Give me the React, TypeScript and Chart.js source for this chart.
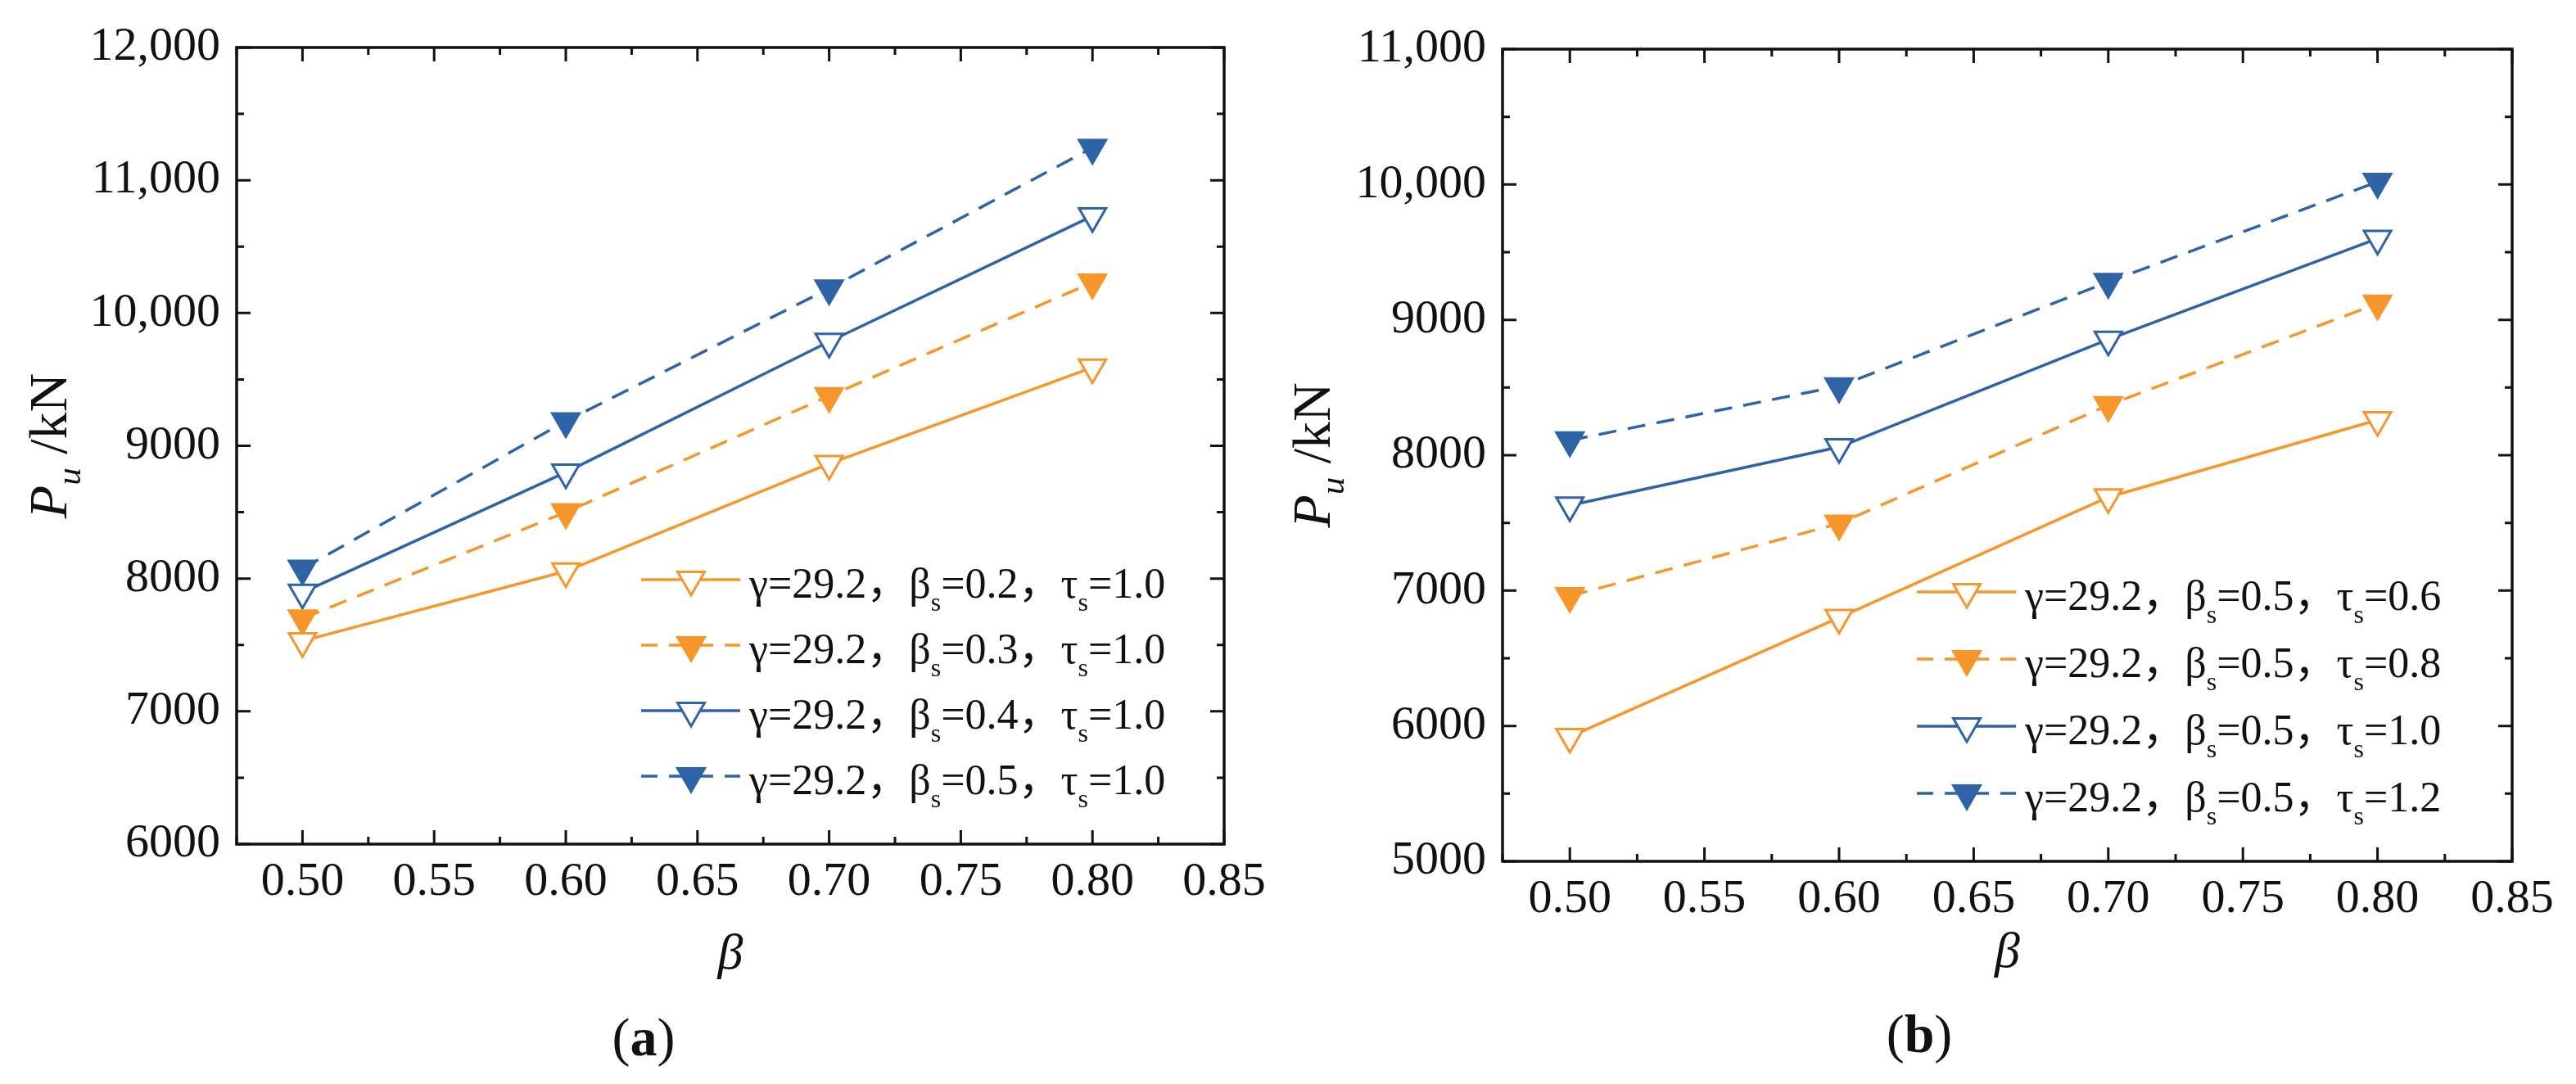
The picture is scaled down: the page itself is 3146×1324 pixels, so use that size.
import React, { useEffect, useRef } from 'react';
import { Chart, registerables } from 'chart.js';

Chart.register(...registerables);

const ORANGE = '#F7962B';
const BLUE = '#2F63A8';
const INK = '#111111';
const SERIF = '"Liberation Serif", "Times New Roman", "Noto Sans CJK SC", serif';

// shared x values (beta)
const betaValues = [0.5, 0.6, 0.7, 0.8];
const xTickValues = [0.5, 0.55, 0.6, 0.65, 0.7, 0.75, 0.8, 0.85];
const xTickLabels = ['0.50', '0.55', '0.60', '0.65', '0.70', '0.75', '0.80', '0.85'];

// panel (a): beta_s varies
const seriesA1 = [7530, 8055, 8865, 9590];
const seriesA2 = [7700, 8500, 9375, 10230];
const seriesA3 = [7895, 8800, 9785, 10730];
const seriesA4 = [8075, 9185, 10185, 11245];
const legendA = [
  'γ=29.2，β_s=0.2，τ_s=1.0',
  'γ=29.2，β_s=0.3，τ_s=1.0',
  'γ=29.2，β_s=0.4，τ_s=1.0',
  'γ=29.2，β_s=0.5，τ_s=1.0',
];
const yTicksA = [6000, 7000, 8000, 9000, 10000, 11000, 12000];
const yLabelsA = ['6000', '7000', '8000', '9000', '10,000', '11,000', '12,000'];

// panel (b): tau_s varies
const seriesB1 = [5920, 6800, 7690, 8260];
const seriesB2 = [6960, 7495, 8370, 9120];
const seriesB3 = [7630, 8060, 8855, 9600];
const seriesB4 = [8110, 8510, 9280, 10020];
const legendB = [
  'γ=29.2，β_s=0.5，τ_s=0.6',
  'γ=29.2，β_s=0.5，τ_s=0.8',
  'γ=29.2，β_s=0.5，τ_s=1.0',
  'γ=29.2，β_s=0.5，τ_s=1.2',
];
const yTicksB = [5000, 6000, 7000, 8000, 9000, 10000, 11000];
const yLabelsB = ['5000', '6000', '7000', '8000', '9000', '10,000', '11,000'];

const seriesStyles = [
  { color: ORANGE, dashed: false, filled: false },
  { color: ORANGE, dashed: true, filled: true },
  { color: BLUE, dashed: false, filled: false },
  { color: BLUE, dashed: true, filled: true },
];

const DASH = [22, 14];
const MARKER_R = 19;

const findIdx = (list: number[], v: number) => list.findIndex((t) => Math.abs(t - v) < 1e-6);

function downTriangle(ctx: CanvasRenderingContext2D, x: number, y: number, r: number, color: string, filled: boolean) {
  ctx.save();
  ctx.setLineDash([]);
  ctx.beginPath();
  ctx.moveTo(x, y + r);
  ctx.lineTo(x - (r * Math.sqrt(3)) / 2, y - r / 2);
  ctx.lineTo(x + (r * Math.sqrt(3)) / 2, y - r / 2);
  ctx.closePath();
  ctx.fillStyle = filled ? color : '#ffffff';
  ctx.fill();
  ctx.lineWidth = 3;
  ctx.strokeStyle = color;
  ctx.stroke();
  ctx.restore();
}

const decorPlugin = {
  id: 'decor',
  afterDraw(chart: any, _args: any, opts: any) {
    const ctx: CanvasRenderingContext2D = chart.ctx;
    const { left, right, top, bottom } = chart.chartArea;
    const xs = chart.scales.x;
    const ys = chart.scales.y;
    ctx.save();
    ctx.strokeStyle = INK;
    ctx.lineCap = 'butt';

    // inward ticks on all four sides
    ctx.lineWidth = 3;
    xs.ticks.forEach((t: any) => {
      const px = xs.getPixelForValue(t.value);
      const len = findIdx(xTickValues, t.value) >= 0 ? 17 : 9;
      ctx.beginPath();
      ctx.moveTo(px, bottom);
      ctx.lineTo(px, bottom - len);
      ctx.moveTo(px, top);
      ctx.lineTo(px, top + len);
      ctx.stroke();
    });
    ys.ticks.forEach((t: any) => {
      const py = ys.getPixelForValue(t.value);
      const len = findIdx(opts.yTicks, t.value) >= 0 ? 17 : 9;
      ctx.beginPath();
      ctx.moveTo(left, py);
      ctx.lineTo(left + len, py);
      ctx.moveTo(right, py);
      ctx.lineTo(right - len, py);
      ctx.stroke();
    });

    // frame
    ctx.lineWidth = 3.5;
    ctx.strokeRect(left, top, right - left, bottom - top);

    // legend
    const lg = opts.legend;
    opts.labels.forEach((label: string, i: number) => {
      const st = seriesStyles[i];
      const y = lg.y + i * lg.gap;
      ctx.save();
      ctx.strokeStyle = st.color;
      ctx.lineWidth = 3.5;
      ctx.setLineDash(st.dashed ? [20, 14] : []);
      ctx.beginPath();
      ctx.moveTo(lg.x, y);
      ctx.lineTo(lg.x + 121, y);
      ctx.stroke();
      ctx.restore();
      downTriangle(ctx, lg.x + 61, y, MARKER_R, st.color, st.filled);

      const parts = label.split(/_(.)/);
      let tx = lg.x + 132;
      const fs = 52;
      ctx.fillStyle = INK;
      ctx.textBaseline = 'alphabetic';
      ctx.textAlign = 'left';
      parts.forEach((p, k) => {
        const sub = k % 2 === 1;
        ctx.font = `${sub ? Math.round(fs * 0.62) : fs}px ${SERIF}`;
        ctx.fillText(p, tx, y + 22 + (sub ? fs * 0.3 : 0));
        tx += ctx.measureText(p).width;
      });
    });

    // y-axis title: P_u /kN
    const yf = 66;
    const segs = [
      { t: 'P', font: `italic ${yf}px ${SERIF}`, dy: 0 },
      { t: 'u', font: `italic ${Math.round(yf * 0.65)}px ${SERIF}`, dy: yf * 0.26 },
      { t: ' /kN', font: `${yf}px ${SERIF}`, dy: 0 },
    ];
    let total = 0;
    segs.forEach((s) => {
      ctx.font = s.font;
      total += ctx.measureText(s.t).width;
    });
    ctx.save();
    ctx.translate(opts.yTitleX + yf * 0.33, (top + bottom) / 2);
    ctx.rotate(-Math.PI / 2);
    ctx.fillStyle = INK;
    ctx.textAlign = 'left';
    ctx.textBaseline = 'alphabetic';
    let sx = -total / 2;
    segs.forEach((s) => {
      ctx.font = s.font;
      ctx.fillText(s.t, sx, s.dy);
      sx += ctx.measureText(s.t).width;
    });
    ctx.restore();

    // x-axis title
    ctx.fillStyle = INK;
    ctx.textAlign = 'center';
    ctx.textBaseline = 'middle';
    ctx.font = `italic 62px ${SERIF}`;
    ctx.fillText('β', (left + right) / 2, opts.xTitleY);

    // caption (a)/(b)
    const cf = 66;
    const cparts = [
      { t: '(', font: `${cf}px ${SERIF}` },
      { t: opts.caption, font: `bold ${cf}px ${SERIF}` },
      { t: ')', font: `${cf}px ${SERIF}` },
    ];
    let cw = 0;
    cparts.forEach((c) => {
      ctx.font = c.font;
      cw += ctx.measureText(c.t).width;
    });
    ctx.textAlign = 'left';
    let cx = opts.captionX - cw / 2;
    cparts.forEach((c) => {
      ctx.font = c.font;
      ctx.fillText(c.t, cx, opts.captionY);
      cx += ctx.measureText(c.t).width;
    });
    ctx.restore();
  },
};

interface PanelProps {
  series: number[][];
  labels: string[];
  yTicks: number[];
  yLabels: string[];
  area: { left: number; top: number; right: number; bottom: number };
  legend: { x: number; y: number; gap: number };
  yTitleX: number;
  xTitleY: number;
  caption: string;
  captionX: number;
  captionY: number;
}

const W = 1573;
const H = 1324;

const Panel: React.FC<PanelProps> = (p) => {
  const canvasRef = useRef<HTMLCanvasElement>(null);

  useEffect(() => {
    if (!canvasRef.current) return;
    const ctx = canvasRef.current.getContext('2d');
    if (!ctx) return;

    const datasets = p.series.map((vals, i) => {
      const st = seriesStyles[i];
      return {
        label: p.labels[i],
        data: betaValues.map((b, k) => ({ x: b, y: vals[k] })),
        borderColor: st.color,
        borderWidth: 3.5,
        borderDash: st.dashed ? DASH : [],
        tension: 0,
        fill: false,
        pointStyle: 'triangle',
        rotation: 180,
        pointRadius: MARKER_R,
        pointBorderWidth: 3,
        pointBorderColor: st.color,
        pointBackgroundColor: st.filled ? st.color : '#ffffff',
      };
    });

    const chart = new Chart(ctx, {
      type: 'line',
      data: { datasets: datasets as any },
      options: {
        animation: false,
        responsive: false,
        devicePixelRatio: 1,
        events: [],
        layout: {
          padding: { left: 0, top: p.area.top, right: W - p.area.right, bottom: 0 },
        },
        plugins: {
          legend: { display: false },
          tooltip: { enabled: false },
          decor: {
            yTicks: p.yTicks,
            labels: p.labels,
            legend: p.legend,
            yTitleX: p.yTitleX,
            xTitleY: p.xTitleY,
            caption: p.caption,
            captionX: p.captionX,
            captionY: p.captionY,
          },
        } as any,
        scales: {
          x: {
            type: 'linear',
            min: 0.475,
            max: 0.85,
            grid: { display: false, drawTicks: false },
            border: { display: false },
            ticks: {
              stepSize: 0.025,
              autoSkip: false,
              maxRotation: 0,
              padding: 12,
              color: INK,
              font: { family: SERIF, size: 58 },
              callback: (v: any) => {
                const i = findIdx(xTickValues, Number(v));
                return i >= 0 ? xTickLabels[i] : '';
              },
            },
            afterFit: (s: any) => {
              s.height = H - p.area.bottom;
            },
          },
          y: {
            type: 'linear',
            min: p.yTicks[0],
            max: p.yTicks[p.yTicks.length - 1],
            grid: { display: false, drawTicks: false },
            border: { display: false },
            ticks: {
              stepSize: 500,
              autoSkip: false,
              padding: 20,
              color: INK,
              font: { family: SERIF, size: 58 },
              callback: (v: any) => {
                const i = findIdx(p.yTicks, Number(v));
                return i >= 0 ? p.yLabels[i] : '';
              },
            },
            afterFit: (s: any) => {
              s.width = p.area.left;
            },
          },
        },
      },
      plugins: [decorPlugin],
    });

    return () => {
      chart.destroy();
    };
  }, [p]);

  return <canvas ref={canvasRef} width={W} height={H} style={{ width: W, height: H, display: 'block' }} />;
};

const panelA: PanelProps = {
  series: [seriesA1, seriesA2, seriesA3, seriesA4],
  labels: legendA,
  yTicks: yTicksA,
  yLabels: yLabelsA,
  area: { left: 289, top: 58, right: 1495, bottom: 1031 },
  legend: { x: 783, y: 708, gap: 80 },
  yTitleX: 59,
  xTitleY: 1167,
  caption: 'a',
  captionX: 786,
  captionY: 1272,
};

const panelB: PanelProps = {
  series: [seriesB1, seriesB2, seriesB3, seriesB4],
  labels: legendB,
  yTicks: yTicksB,
  yLabels: yLabelsB,
  area: { left: 262, top: 60, right: 1495, bottom: 1052 },
  legend: { x: 768, y: 723, gap: 82 },
  yTitleX: 29,
  xTitleY: 1165,
  caption: 'b',
  captionX: 771,
  captionY: 1268,
};

export default function App() {
  return (
    <div style={{ position: 'absolute', left: 0, top: 0, width: 3146, height: 1324, background: '#fff', display: 'flex' }}>
      <Panel {...panelA} />
      <Panel {...panelB} />
    </div>
  );
}
